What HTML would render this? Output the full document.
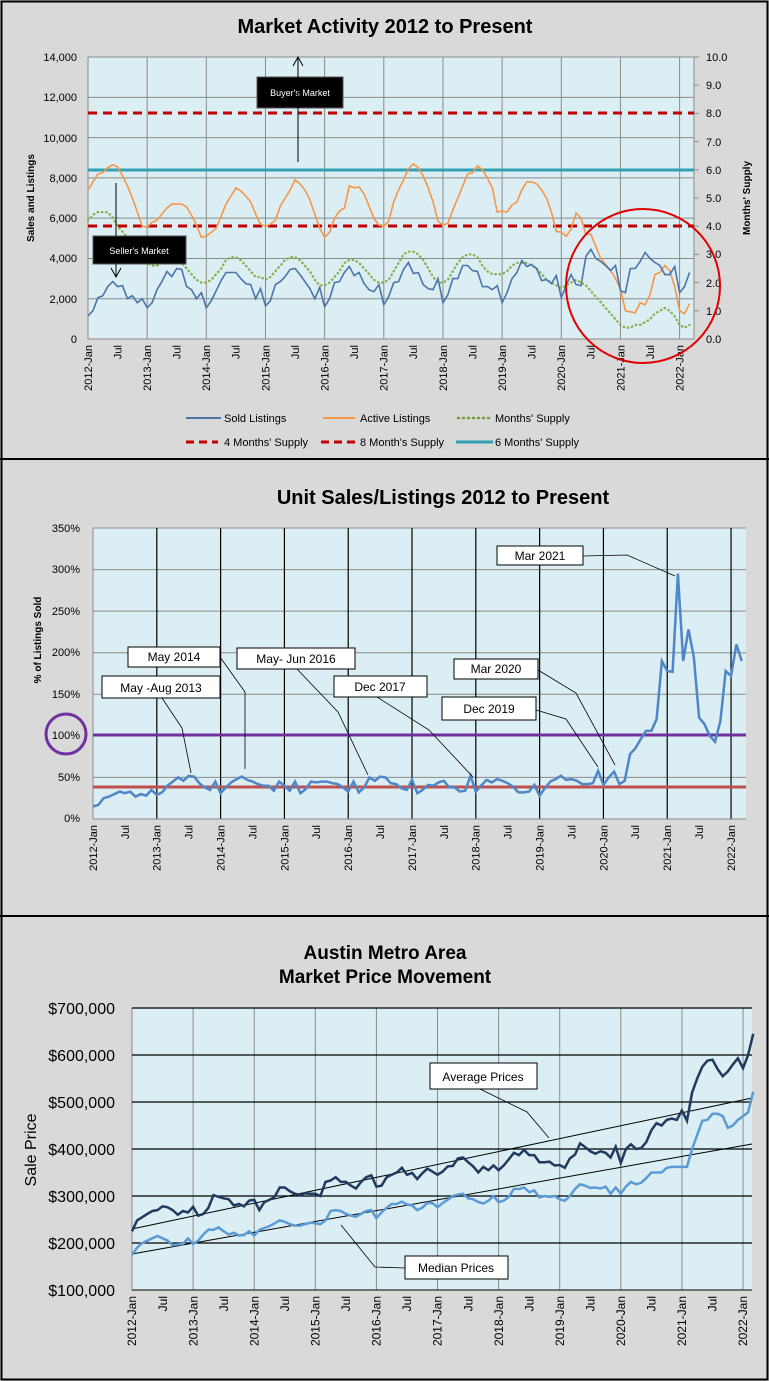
<!DOCTYPE html>
<html><head><meta charset="utf-8"><style>
html,body{margin:0;padding:0;background:#d9d9d9}
svg{display:block}
text{font-family:"Liberation Sans",sans-serif}
</style></head><body>
<svg id="s" width="769" height="1381" viewBox="0 0 769 1381" xmlns="http://www.w3.org/2000/svg">
<rect x="0" y="0" width="769" height="1381" fill="#d9d9d9"/>
<rect x="1.5" y="1.5" width="766" height="1378" fill="none" stroke="#000" stroke-width="2"/>
<line x1="0" y1="459" x2="769" y2="459" stroke="#000" stroke-width="2"/>
<line x1="0" y1="916" x2="769" y2="916" stroke="#000" stroke-width="2"/>

<!-- CHART 1 -->
<text x="385" y="33" font-size="20" font-weight="bold" text-anchor="middle">Market Activity 2012 to Present</text>
<rect x="88" y="57" width="606" height="282" fill="#dbeef4"/>
<g id="g1"></g>
<g font-size="11" text-anchor="end">
<text x="77" y="61">14,000</text><text x="77" y="101">12,000</text><text x="77" y="142">10,000</text><text x="77" y="182">8,000</text><text x="77" y="222">6,000</text><text x="77" y="262">4,000</text><text x="77" y="303">2,000</text><text x="77" y="343">0</text>
</g>
<g font-size="11">
<text x="706" y="61">10.0</text><text x="706" y="89">9.0</text><text x="706" y="117">8.0</text><text x="706" y="146">7.0</text><text x="706" y="174">6.0</text><text x="706" y="202">5.0</text><text x="706" y="230">4.0</text><text x="706" y="258">3.0</text><text x="706" y="287">2.0</text><text x="706" y="315">1.0</text><text x="706" y="343">0.0</text>
</g>
<text transform="translate(34,198) rotate(-90)" font-size="10" font-weight="bold" text-anchor="middle">Sales and Listings</text>
<text transform="translate(750,198) rotate(-90)" font-size="10" font-weight="bold" text-anchor="middle">Months' Supply</text>
<g id="x1" font-size="11" text-anchor="end"></g>
<rect x="257" y="77" width="86" height="31" fill="#000" stroke="#555"/>
<text x="300" y="96" fill="#fff" font-size="9" text-anchor="middle">Buyer's Market</text>
<rect x="93" y="236" width="93" height="28" fill="#000" stroke="#555"/>
<text x="139" y="254" fill="#fff" font-size="9" text-anchor="middle">Seller's Market</text>
<line x1="298" y1="162" x2="298" y2="58" stroke="#000"/><polyline points="293,66 298,57 303,66" fill="none" stroke="#000"/>
<line x1="116" y1="183" x2="116" y2="236" stroke="#000"/><line x1="116" y1="264" x2="116" y2="276" stroke="#000"/><polyline points="111,268 116,277 121,268" fill="none" stroke="#000"/>
<ellipse cx="643" cy="286" rx="77" ry="77" fill="none" stroke="#e00000" stroke-width="2"/>
<g font-size="11">
<line x1="186" y1="418" x2="221" y2="418" stroke="#4a74aa" stroke-width="2"/><text x="224" y="422">Sold Listings</text>
<line x1="323" y1="418" x2="355" y2="418" stroke="#f79646" stroke-width="2"/><text x="360" y="422">Active Listings</text>
<line x1="458" y1="418" x2="490" y2="418" stroke="#77a03c" stroke-width="2.5" stroke-dasharray="1,4" stroke-linecap="round"/><text x="495" y="422">Months' Supply</text>
<line x1="186" y1="442" x2="218" y2="442" stroke="#c00000" stroke-width="3" stroke-dasharray="8,5"/><text x="224" y="446">4 Months' Supply</text>
<line x1="321" y1="442" x2="355" y2="442" stroke="#c00000" stroke-width="3" stroke-dasharray="8,5"/><text x="360" y="446">8 Month's Supply</text>
<line x1="456" y1="442" x2="493" y2="442" stroke="#31a0b4" stroke-width="3"/><text x="495" y="446">6 Months' Supply</text>
</g>

<!-- CHART 2 -->
<text x="443" y="504" font-size="20" font-weight="bold" text-anchor="middle">Unit Sales/Listings 2012 to Present</text>
<rect x="93" y="528" width="653" height="291" fill="#dbeef4"/>
<g id="g2"></g>
<g font-size="11" text-anchor="end">
<text x="80" y="532">350%</text><text x="80" y="573">300%</text><text x="80" y="615">250%</text><text x="80" y="656">200%</text><text x="80" y="698">150%</text><text x="80" y="739">100%</text><text x="80" y="781">50%</text><text x="80" y="822">0%</text>
</g>
<text transform="translate(41,640) rotate(-90)" font-size="10" font-weight="bold" text-anchor="middle">% of Listings Sold</text>
<ellipse cx="66" cy="734" rx="20" ry="20" fill="none" stroke="#7030a0" stroke-width="3"/>
<g id="x2" font-size="11" text-anchor="end"></g>
<g fill="none" stroke="#000" stroke-width="0.8">
<polyline points="583,556 627,555 675,576"/>
<polyline points="220,657 245,692 245,769"/>
<polyline points="297,669 338,712 368,775"/>
<polyline points="162,698 182,728 191,773"/>
<polyline points="377,697 429,730 473,777"/>
<polyline points="538,670 576,693 615,765"/>
<polyline points="536,710 566,719 598,767"/>
</g>
<g fill="#fff" stroke="#000" stroke-width="1">
<rect x="497" y="546" width="86" height="19"/>
<rect x="128" y="647" width="92" height="20"/>
<rect x="237" y="648" width="118" height="21"/>
<rect x="102" y="676" width="118" height="22"/>
<rect x="334" y="676" width="93" height="21"/>
<rect x="454" y="659" width="84" height="20"/>
<rect x="442" y="697" width="94" height="23"/>
</g>
<g font-size="12" text-anchor="middle">
<text x="540" y="560">Mar 2021</text>
<text x="174" y="661">May 2014</text>
<text x="296" y="663">May- Jun 2016</text>
<text x="161" y="692">May -Aug 2013</text>
<text x="380" y="691">Dec 2017</text>
<text x="496" y="673">Mar 2020</text>
<text x="489" y="713">Dec 2019</text>
</g>

<!-- CHART 3 -->
<text x="385" y="959" font-size="19" font-weight="bold" text-anchor="middle">Austin Metro Area</text>
<text x="385" y="983" font-size="19" font-weight="bold" text-anchor="middle">Market Price Movement</text>
<rect x="132" y="1008" width="620" height="282" fill="#dbeef4"/>
<g id="g3"></g>
<g font-size="16" text-anchor="end">
<text x="115" y="1014">$700,000</text><text x="115" y="1061">$600,000</text><text x="115" y="1108">$500,000</text><text x="115" y="1155">$400,000</text><text x="115" y="1202">$300,000</text><text x="115" y="1249">$200,000</text><text x="115" y="1296">$100,000</text>
</g>
<text transform="translate(36,1150) rotate(-90)" font-size="16" text-anchor="middle">Sale Price</text>
<g id="x3" font-size="12" text-anchor="end"></g>
<g fill="none" stroke="#000" stroke-width="0.8">
<polyline points="480,1089 527,1112 549,1138"/>
<polyline points="405,1268 375,1267 341,1225"/>
</g>
<rect x="430" y="1063" width="107" height="26" fill="#fff" stroke="#000"/>
<text x="483" y="1081" font-size="12" text-anchor="middle">Average Prices</text>
<rect x="405" y="1256" width="103" height="23" fill="#fff" stroke="#000"/>
<text x="456" y="1272" font-size="12" text-anchor="middle">Median Prices</text>
</svg>
<script>
var NS="http://www.w3.org/2000/svg";
function el(p,t,a){var e=document.createElementNS(NS,t);for(var k in a)e.setAttribute(k,a[k]);document.getElementById(p).appendChild(e);return e;}
function pts(arr,fx,fy){return arr.map(function(v,i){return fx(i).toFixed(1)+","+fy(v).toFixed(1)}).join(" ");}
function xlabels(id,x0,step,ybase,fs){
 for(var m=0;m<=123;m+=6){var x=x0+m*step;var lab=(m%12==0)?(2012+m/12)+"-Jan":"Jul";
  var t=el(id,"text",{transform:"translate("+(x+fs*0.35).toFixed(1)+","+ybase+") rotate(-90)"});t.textContent=lab;}
}
// Chart 1
var X1=function(i){return 88+i*4.93};
for(var m=0;m<=120;m+=12){el("g1","line",{x1:X1(m),y1:57,x2:X1(m),y2:339,stroke:"#8a8a8a","stroke-width":1});}
for(var v=0;v<=14000;v+=2000){var y=339-v*0.02014;el("g1","line",{x1:88,y1:y,x2:694,y2:y,stroke:"#8a8a8a","stroke-width":1});}
for(var s=1;s<=10;s++){var y=339-s*28.2;el("g1","line",{x1:694,y1:y,x2:699,y2:y,stroke:"#8a8a8a"});}
el("g1","line",{x1:88,y1:57,x2:88,y2:339,stroke:"#8a8a8a"});
el("g1","line",{x1:694,y1:57,x2:694,y2:339,stroke:"#8a8a8a"});
var sold=[1150,1400,2050,2150,2600,2850,2600,2650,2000,2150,1800,2000,1550,1800,2450,2850,3350,3100,3500,3450,2600,2450,2000,2300,1550,1900,2400,2900,3300,3300,3300,3000,2750,2700,2000,2500,1650,1900,2700,2850,3100,3450,3500,3200,2850,2500,2000,2550,1600,2000,2800,2850,3300,3600,3150,3300,2750,2450,2350,2700,1700,2100,2800,2850,3450,3800,3250,3300,2700,2500,2450,3000,1800,2200,3000,3000,3650,3650,3400,3350,2600,2600,2450,2650,1800,2300,3000,3300,3900,3600,3700,3500,2900,2950,2750,3150,2050,2650,3200,2700,2650,4100,4450,4000,3850,3650,3400,3650,2400,2300,3500,3500,3850,4300,4000,3800,3650,3200,3200,3600,2300,2600,3300];
var act=[7400,7800,8200,8250,8500,8650,8550,8100,7600,7000,6300,5600,5550,5800,5900,6200,6500,6700,6700,6700,6550,6150,5650,5050,5100,5300,5500,6100,6700,7100,7500,7350,7100,6800,6200,5700,5600,5700,5900,6600,7000,7400,7900,7700,7400,6900,6200,5500,5050,5300,6000,6350,6500,7600,7500,7550,7200,6600,6000,5650,5600,5850,6800,7400,7900,8450,8700,8500,8100,7500,6800,5850,5650,5750,6400,7000,7600,8200,8250,8600,8400,8000,7500,6300,6350,6300,6650,6800,7400,7800,7800,7700,7400,7000,6300,5350,5300,5100,5450,6250,6000,5200,5200,4600,4000,3700,3400,3000,2500,1400,1350,1300,1800,1700,2200,3200,3300,3650,3400,2600,1400,1250,1750];
var sup=[4.2,4.4,4.5,4.5,4.5,4.3,4.0,3.8,3.6,3.3,3.0,2.8,2.7,2.6,2.6,2.7,2.8,2.9,2.8,2.7,2.5,2.3,2.1,2.0,2.0,2.1,2.3,2.5,2.8,2.9,2.9,2.8,2.6,2.4,2.2,2.2,2.1,2.2,2.4,2.6,2.8,2.9,2.9,2.8,2.6,2.4,2.1,1.9,1.9,2.0,2.2,2.4,2.7,2.8,2.8,2.7,2.5,2.3,2.1,2.0,2.0,2.1,2.4,2.7,3.0,3.1,3.1,3.0,2.8,2.5,2.2,2.0,2.0,2.1,2.4,2.7,2.9,3.0,3.0,2.9,2.6,2.4,2.3,2.3,2.3,2.4,2.6,2.7,2.7,2.7,2.6,2.5,2.3,2.1,2.0,1.9,1.8,1.9,2.0,2.1,2.0,1.9,1.7,1.5,1.3,1.1,0.9,0.7,0.5,0.4,0.4,0.5,0.5,0.6,0.7,0.9,1.0,1.1,1.0,0.8,0.5,0.4,0.5];
var Y1=function(v){return 339-v*0.02014}, Y1r=function(v){return 339-v*28.2};
el("g1","line",{x1:88,y1:170,x2:694,y2:170,stroke:"#31a0b4","stroke-width":3});
el("g1","line",{x1:88,y1:113,x2:694,y2:113,stroke:"#c00000","stroke-width":3,"stroke-dasharray":"9,6"});
el("g1","line",{x1:88,y1:226,x2:694,y2:226,stroke:"#c00000","stroke-width":3,"stroke-dasharray":"9,6"});
el("g1","polyline",{points:pts(sup,X1,Y1r),fill:"none",stroke:"#86b04a","stroke-width":2.3,"stroke-dasharray":"0.5,3.8","stroke-linecap":"round"});
el("g1","polyline",{points:pts(act,X1,Y1),fill:"none",stroke:"#f79646","stroke-width":1.6});
el("g1","polyline",{points:pts(sold,X1,Y1),fill:"none",stroke:"#4a74aa","stroke-width":1.6});
xlabels("x1",88,4.93,345,11);
// Chart 2
var X2=function(i){return 93+i*5.317}, Y2=function(p){return 819-p*0.8314};
for(var p=50;p<=350;p+=50){el("g2","line",{x1:93,y1:Y2(p),x2:746,y2:Y2(p),stroke:"#8a8a8a"});}
for(var m=12;m<=120;m+=12){el("g2","line",{x1:X2(m),y1:528,x2:X2(m),y2:819,stroke:"#000","stroke-width":1.2});}
el("g2","line",{x1:93,y1:528,x2:93,y2:819,stroke:"#8a8a8a"});
el("g2","line",{x1:93,y1:819,x2:746,y2:819,stroke:"#8a8a8a"});
el("g2","line",{x1:93,y1:735,x2:746,y2:735,stroke:"#7030a0","stroke-width":3});
el("g2","line",{x1:93,y1:787,x2:746,y2:787,stroke:"#c0504d","stroke-width":3});
var pr=[15,17,25,27,30,33,31,33,27,30,28,35,29,32,40,45,50,46,52,51,43,38,35,45,31,38,44,48,51,47,45,42,40,40,34,45,40,34,45,31,36,45,44,45,45,43,42,38,33,45,32,38,50,46,51,50,43,42,37,35,47,31,35,41,40,44,46,38,38,33,34,52,33,40,47,44,48,46,43,39,32,32,33,41,28,37,45,48,52,47,48,46,42,42,43,58,41,50,57,42,46,78,85,96,106,106,120,190,178,177,295,190,228,195,122,114,100,93,118,178,172,210,190];
el("g2","polyline",{points:pts(pr,X2,Y2),fill:"none",stroke:"#4f86c6","stroke-width":2.5});
xlabels("x2",93,5.317,825,11);
// Chart 3
var X3=function(i){return 132+i*5.092}, Y3=function(v){return 1290-(v-100)*0.47};
for(var m=0;m<=120;m+=12){el("g3","line",{x1:X3(m),y1:1008,x2:X3(m),y2:1290,stroke:"#8a8a8a"});}
for(var v=200;v<=700;v+=100){el("g3","line",{x1:132,y1:Y3(v),x2:752,y2:Y3(v),stroke:"#000","stroke-width":1.2});}
el("g3","line",{x1:132,y1:1290,x2:752,y2:1290,stroke:"#000"});
var avg=[225,248,255,262,268,270,278,276,270,260,268,265,277,258,262,275,302,298,295,293,280,283,278,290,292,270,287,292,298,318,318,310,305,302,306,305,305,300,330,333,340,330,330,322,316,330,340,344,320,322,340,345,350,360,345,349,336,348,358,352,345,352,363,364,380,382,372,363,350,362,355,365,355,365,378,392,387,398,387,387,372,372,373,365,366,360,380,388,412,404,395,390,395,392,382,405,370,400,410,400,402,415,440,455,450,462,465,462,482,460,520,550,575,588,590,570,555,565,580,593,572,600,645];
var med=[175,190,200,205,210,215,210,205,195,197,198,210,198,205,218,228,228,233,225,218,222,216,217,225,216,228,232,236,242,248,245,240,237,237,240,243,242,240,248,268,270,268,262,258,256,262,268,270,253,265,275,283,283,288,282,280,270,275,285,285,276,285,292,300,303,305,295,293,287,284,290,300,287,290,298,315,315,318,308,312,297,300,298,300,293,290,300,315,325,322,317,318,316,320,305,318,305,320,330,325,328,338,350,350,350,360,362,362,362,362,400,430,460,462,475,475,470,445,450,462,470,478,522];
el("g3","line",{x1:132,y1:1229,x2:752,y2:1098,stroke:"#000","stroke-width":1});
el("g3","line",{x1:132,y1:1254,x2:752,y2:1144,stroke:"#000","stroke-width":1});
el("g3","polyline",{points:pts(med,X3,Y3),fill:"none",stroke:"#5b9bd5","stroke-width":2.5});
el("g3","polyline",{points:pts(avg,X3,Y3),fill:"none",stroke:"#1f3a5f","stroke-width":2.5});
xlabels("x3",132,5.092,1296,12);
</script>
</body></html>
